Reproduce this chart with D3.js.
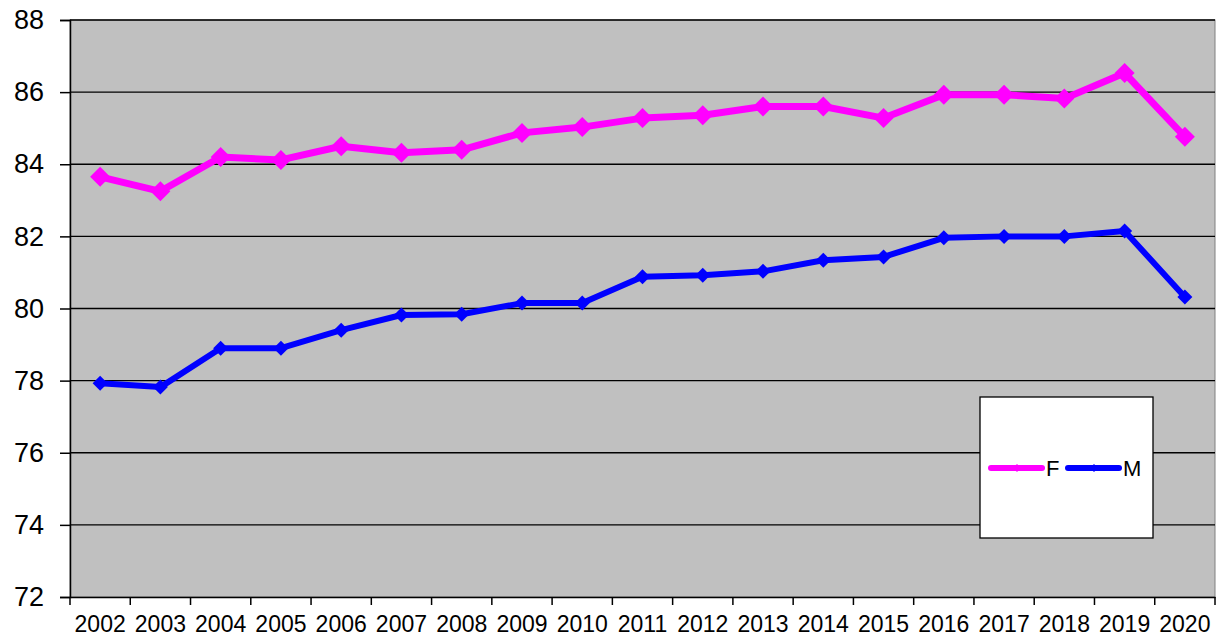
<!DOCTYPE html>
<html>
<head>
<meta charset="utf-8">
<script src="https://cdn.jsdelivr.net/npm/d3@7"></script>
<style>
  body { margin: 0; background: #fff; }
  text { font-family: "Liberation Sans", Arial, sans-serif; }
</style>
</head>
<body>
<div id="chart"></div>
<script>
// data
const years = ["2002","2003","2004","2005","2006","2007","2008","2009","2010","2011",
               "2012","2013","2014","2015","2016","2017","2018","2019","2020"];
const femaleValues = [83.65, 83.25, 84.2, 84.12, 84.5, 84.32, 84.4, 84.87, 85.03, 85.28,
                      85.36, 85.6, 85.6, 85.28, 85.93, 85.93, 85.82, 86.53, 84.76];
const maleValues = [77.93, 77.82, 78.9, 78.9, 79.4, 79.82, 79.84, 80.15, 80.15, 80.88,
                    80.92, 81.03, 81.34, 81.43, 81.96, 82.0, 82.0, 82.15, 80.32];
const yTicks = [72, 74, 76, 78, 80, 82, 84, 86, 88];

const width = 1224, height = 643;
const margin = { top: 20, right: 9, bottom: 46, left: 70 };
const w = width - margin.left - margin.right;
const h = height - margin.top - margin.bottom;

const svg = d3.select("#chart").append("svg")
    .attr("width", width)
    .attr("height", height);

const g = svg.append("g")
    .attr("transform", `translate(${margin.left},${margin.top})`);

const x = d3.scaleBand().domain(years).range([0, w]);
const y = d3.scaleLinear().domain([72, 88]).range([h, 0]);

// plot background
g.append("rect")
    .attr("width", w)
    .attr("height", h)
    .attr("fill", "#c0c0c0")
    .attr("stroke", "#808080")
    .attr("stroke-width", 1);

// grid lines
g.selectAll(".grid")
    .data(yTicks.slice(1))
    .enter().append("line")
    .attr("class", "grid")
    .attr("x1", 0).attr("x2", w)
    .attr("y1", d => y(d)).attr("y2", d => y(d))
    .attr("stroke", "#000")
    .attr("stroke-width", 1.3);

// y axis
const yAxis = g.append("g")
    .call(d3.axisLeft(y).tickValues(yTicks).tickSize(10).tickPadding(16));
yAxis.select(".domain").attr("stroke-width", 1.5);
yAxis.selectAll("line").attr("stroke-width", 1.5);
yAxis.selectAll("text")
    .style("font-size", "27px")
    .attr("fill", "#000");

// x axis, ticks between categories
const xAxis = g.append("g")
    .attr("transform", `translate(0,${h})`)
    .call(d3.axisBottom(x).tickSize(0).tickPadding(19));
xAxis.select(".domain").attr("stroke-width", 1.5);
xAxis.selectAll("text")
    .style("font-size", "23px")
    .attr("fill", "#000");
g.selectAll(".xtick")
    .data(years.concat(["end"]))
    .enter().append("line")
    .attr("class", "xtick")
    .attr("x1", (d, i) => i * x.bandwidth())
    .attr("x2", (d, i) => i * x.bandwidth())
    .attr("y1", h).attr("y2", h + 8)
    .attr("stroke", "#000")
    .attr("stroke-width", 1.5);

const cx = d => x(d) + x.bandwidth() / 2;

function drawSeries(values, color, lw, msize) {
    const pts = years.map((yr, i) => ({ yr: yr, v: values[i] }));
    g.append("path")
        .datum(pts)
        .attr("fill", "none")
        .attr("stroke", color)
        .attr("stroke-width", lw)
        .attr("stroke-linejoin", "round")
        .attr("d", d3.line().x(d => cx(d.yr)).y(d => y(d.v)));
    g.selectAll(null)
        .data(pts)
        .enter().append("path")
        .attr("transform", d => `translate(${cx(d.yr)},${y(d.v)})`)
        .attr("d", `M0,${-msize}L${msize},0L0,${msize}L${-msize},0Z`)
        .attr("fill", color);
}

drawSeries(femaleValues, "#ff00ff", 7, 10);
drawSeries(maleValues, "#0000ff", 6, 7.5);

// legend
const legend = svg.append("g")
    .attr("transform", "translate(980,397)");
legend.append("rect")
    .attr("width", 173)
    .attr("height", 141)
    .attr("fill", "#fff")
    .attr("stroke", "#000")
    .attr("stroke-width", 1.3);

const legendItems = [
    { label: "F", color: "#ff00ff", x0: 11 },
    { label: "M", color: "#0000ff", x0: 88 }
];
legendItems.forEach(it => {
    legend.append("line")
        .attr("x1", it.x0).attr("x2", it.x0 + 51)
        .attr("y1", 71).attr("y2", 71)
        .attr("stroke", it.color)
        .attr("stroke-width", 6)
        .attr("stroke-linecap", "round");
    legend.append("path")
        .attr("transform", `translate(${it.x0 + 26},71)`)
        .attr("d", "M0,-4L4,0L0,4L-4,0Z")
        .attr("fill", it.color);
    legend.append("text")
        .attr("x", it.x0 + 55)
        .attr("y", 79)
        .style("font-size", "22px")
        .text(it.label);
});
</script>
</body>
</html>
